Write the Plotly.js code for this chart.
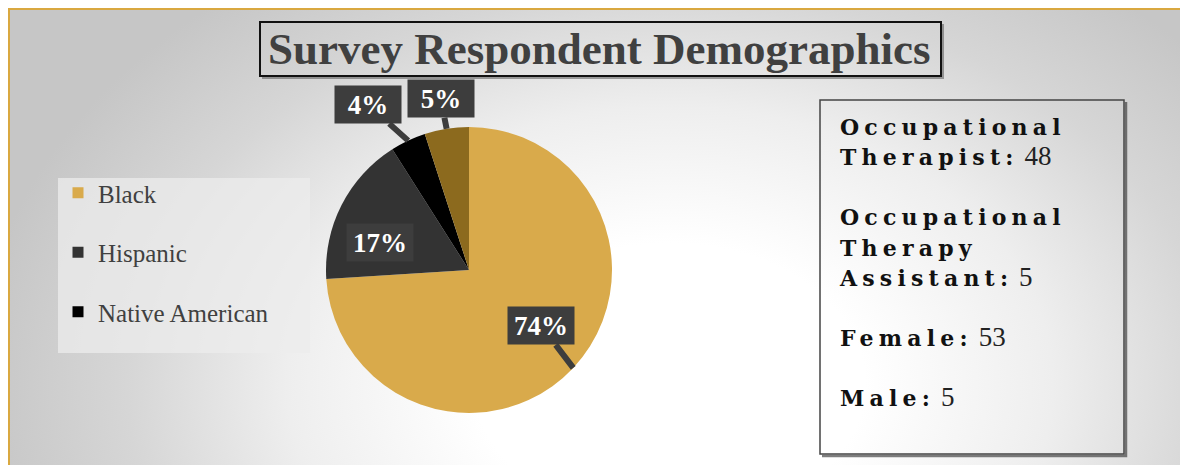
<!DOCTYPE html>
<html>
<head>
<meta charset="utf-8">
<script src="https://cdn.plot.ly/plotly-3.0.1.min.js"></script>
<style>
  html, body { margin: 0; padding: 0; width: 1180px; height: 465px; overflow: hidden; background: #ffffff; }
  #frame {
    position: absolute; left: 8px; top: 8px; width: 1200px; height: 480px;
    border-left: 2px solid #D9A840; border-top: 2px solid #D9A840;
    background: radial-gradient(ellipse 58% 105% at 55% 78%, #ffffff 0%, #ffffff 28%, #eeeeee 55%, #d6d6d6 78%, #c6c6c6 100%);
  }
  #chart { position: absolute; left: 0; top: 0; width: 1180px; height: 465px; }
  .annotation-text tspan[style*="font-weight:bold"] { letter-spacing: 5.2px; }
</style>
</head>
<body>
<div id="frame"></div>
<div id="chart"></div>
<script>
// ---- data ----
const categories = ['Black', 'Hispanic', 'Native American', 'Other'];
const shares = [74, 17, 4, 5];
const legendCategories = ['Black', 'Hispanic', 'Native American'];
const statLabels = ['Occupational Therapist', 'Occupational Therapy Assistant', 'Female', 'Male'];
const statValues = [48, 5, 53, 5];
const chartTitle = 'Survey Respondent Demographics';

// ---- style ----
const sliceColors = ['#D9AA4B', '#333333', '#000000', '#8C6A1E'];
const W = 1180, H = 465;
const pieCx = 469, pieCy = 270, pieR = 143;
const px = v => v / W;
const py = v => 1 - v / H;
// callout offsets (pixels) and whether a pointer is drawn
const callout = [
  {dx: -32, dy: -42, arrow: true, r: 1.0},
  {dx: -13, dy: 11, arrow: false, r: 0.6},
  {dx: -40, dy: -36, arrow: true, r: 1.0},
  {dx: -6, dy: -30, arrow: true, r: 1.0}
];

const total = shares.reduce((a, b) => a + b, 0);
let cum = 0;
const annotations = [];
shares.forEach((v, i) => {
  const mid = (cum + v / 2) / total * 2 * Math.PI;
  cum += v;
  const c = callout[i];
  const tipX = pieCx + c.r * pieR * Math.sin(mid);
  const tipY = pieCy - c.r * pieR * Math.cos(mid);
  const a = {
    text: v + '%',
    xref: 'paper', yref: 'paper',
    font: {family: 'Liberation Serif', size: 27, color: '#ffffff', weight: 'bold'},
    bgcolor: '#3d3d3d',
    width: 62, height: 33, borderpad: 2,
    showarrow: c.arrow
  };
  if (c.arrow) {
    Object.assign(a, {x: px(tipX), y: py(tipY), ax: c.dx, ay: c.dy,
      arrowhead: 0, arrowwidth: 6, arrowcolor: '#3d3d3d', standoff: 0});
  } else {
    Object.assign(a, {x: px(tipX + c.dx), y: py(tipY + c.dy), xanchor: 'center', yanchor: 'middle'});
  }
  annotations.push(a);
});

// title
annotations.push({
  text: chartTitle, xref: 'paper', yref: 'paper', x: px(599), y: py(49),
  xanchor: 'center', yanchor: 'middle', showarrow: false,
  font: {family: 'Liberation Serif', size: 45, color: '#404040', weight: 'bold'}
});

// stats text box
const statLines = statLabels.map((l, i) =>
  '<b><span style="font-family:DejaVu Serif;font-size:22px;color:#111111">' +
  l.split(' ').map((w, j, arr) => w + (j === arr.length - 1 ? ':' : '')).join('<br>') +
  '</span></b> <span style="font-size:27px">' + statValues[i] + '</span>');
annotations.push({
  text: statLines.join('<br><br>'), xref: 'paper', yref: 'paper', x: px(837), y: py(112),
  xanchor: 'left', yanchor: 'top', align: 'left', showarrow: false,
  font: {family: 'Liberation Serif', size: 23.2, color: '#222222'}
});

const shapes = [
  // legend panel
  {type: 'rect', xref: 'paper', yref: 'paper', x0: px(58), x1: px(310), y0: py(353), y1: py(178),
   fillcolor: 'rgba(236,236,236,0.75)', line: {width: 0}, layer: 'below'},
  // title box shadow + box
  {type: 'path', xref: 'paper', yref: 'paper',
   path: `M ${px(943)} ${py(24)} L ${px(943)} ${py(78)} L ${px(262)} ${py(78)}`,
   line: {color: 'rgba(60,60,60,0.45)', width: 2}},
  {type: 'rect', xref: 'paper', yref: 'paper', x0: px(260), x1: px(941), y0: py(76), y1: py(22),
   line: {color: '#111111', width: 2}},
  // stats box shadow + box
  {type: 'path', xref: 'paper', yref: 'paper',
   path: `M ${px(1126)} ${py(102)} L ${px(1126)} ${py(456)} L ${px(822)} ${py(456)}`,
   line: {color: 'rgba(40,40,40,0.6)', width: 2.5}},
  {type: 'rect', xref: 'paper', yref: 'paper', x0: px(820), x1: px(1124), y0: py(454), y1: py(100),
   line: {color: '#444444', width: 1.5}}
];

const traces = [{
  type: 'pie',
  labels: categories,
  values: shares,
  sort: false,
  direction: 'clockwise',
  rotation: 0,
  marker: {colors: sliceColors},
  textinfo: 'none',
  showlegend: false,
  domain: {x: [px(pieCx - pieR), px(pieCx + pieR)], y: [py(pieCy + pieR), py(pieCy - pieR)]}
}];
legendCategories.forEach((c, i) => {
  traces.push({
    type: 'scatter', mode: 'markers', x: [null], y: [null], name: c,
    legendgroup: 'g' + i,
    marker: {symbol: 'square', size: 11, color: sliceColors[categories.indexOf(c)]},
    hoverinfo: 'skip'
  });
});

const layout = {
  width: W, height: H,
  margin: {l: 0, r: 0, t: 0, b: 0},
  paper_bgcolor: 'rgba(0,0,0,0)',
  plot_bgcolor: 'rgba(0,0,0,0)',
  xaxis: {visible: false},
  yaxis: {visible: false},
  showlegend: true,
  legend: {
    x: px(58), y: py(170), xanchor: 'left', yanchor: 'top',
    bgcolor: 'rgba(0,0,0,0)', tracegroupgap: 24,
    font: {family: 'Liberation Serif', size: 25, color: '#404040'},
    itemwidth: 30
  },
  annotations: annotations,
  shapes: shapes
};

Plotly.newPlot('chart', traces, layout, {displayModeBar: false, staticPlot: true});
</script>
</body>
</html>
